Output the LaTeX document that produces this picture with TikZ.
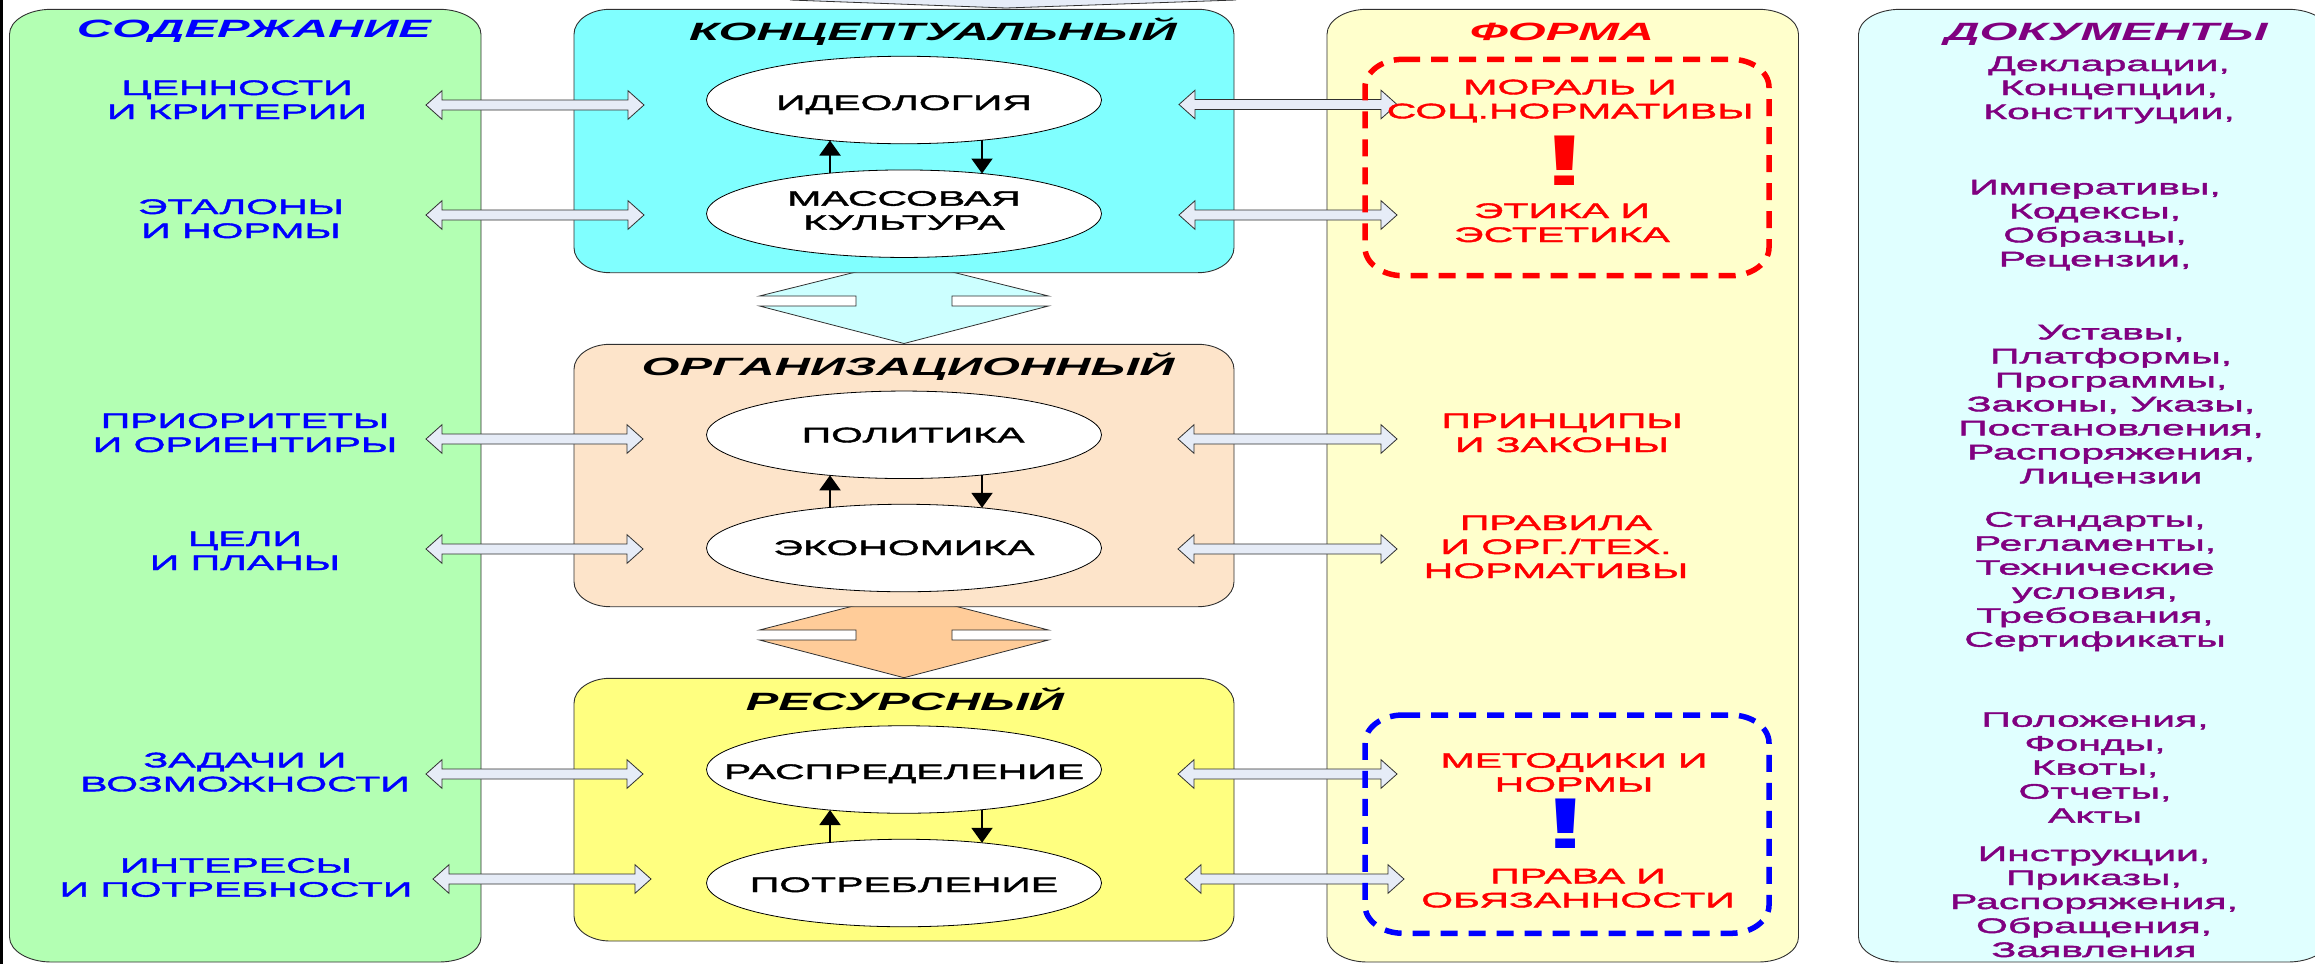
\documentclass[tikz,border=0pt]{standalone}
\usepackage{fontspec}
\setmainfont{Liberation Sans}[FakeStretch=1.95, UprightFeatures={FakeBold=2}]
\usetikzlibrary{shapes.geometric,arrows.meta,calc}

\definecolor{cGreen}{HTML}{B3FFB3}
\definecolor{cCyan}{HTML}{80FFFF}
\definecolor{cPeach}{HTML}{FDE4CA}
\definecolor{cYel}{HTML}{FFFF80}
\definecolor{cForm}{HTML}{FFFFCC}
\definecolor{cDoc}{HTML}{E0FFFF}
\definecolor{cCyanArr}{HTML}{CCFFFF}
\definecolor{cOrgArr}{HTML}{FFCC99}
\definecolor{cSmall}{HTML}{E6ECF7}
\definecolor{cLine}{HTML}{303030}
\definecolor{cBlue}{HTML}{0000FF}
\definecolor{cRed}{HTML}{FF0000}
\definecolor{cPurple}{HTML}{800080}

\newcommand\mlines[1]{\begin{tabular}[t]{@{}c@{}}#1\end{tabular}}
% rounded rectangle with elliptical corners: style, x1, y1, x2, y2, rx, ry
\newcommand\rbox[7]{%
\path[#1] ({#2+#6},#3) -- ({#4-#6},#3)
 .. controls ({#4-0.4477*#6},#3) and (#4,{#3+0.4477*#7}) .. (#4,{#3+#7})
 -- (#4,{#5-#7})
 .. controls (#4,{#5-0.4477*#7}) and ({#4-0.4477*#6},#5) .. ({#4-#6},#5)
 -- ({#2+#6},#5)
 .. controls ({#2+0.4477*#6},#5) and (#2,{#5-0.4477*#7}) .. (#2,{#5-#7})
 -- (#2,{#3+#7})
 .. controls (#2,{#3+0.4477*#7}) and ({#2+0.4477*#6},#3) .. ({#2+#6},#3) -- cycle;}
% small hollow double arrow between two named coordinates (left tip, right tip)
\newcommand\sarrow[2]{%
\path[sarr] (#1) -- ($(#1)+(16,-14.3)$) -- ($(#1)+(16,-5)$) -- ($(#2)+(-16,-5)$)
 -- ($(#2)+(-16,-14.3)$) -- (#2) -- ($(#2)+(-16,14.3)$) -- ($(#2)+(-16,5)$)
 -- ($(#1)+(16,5)$) -- ($(#1)+(16,14.3)$) -- cycle;}

\tikzset{
 boxline/.style={draw=cLine, line width=0.9pt},
 sarr/.style={draw=cLine, line width=0.8pt, fill=cSmall},
 ell/.style={ellipse, draw=black, line width=0.8pt, fill=white, inner sep=0pt,
   minimum width=395pt, minimum height=87.5pt, font=\fontsize{21}{24}\selectfont},
 blk/.style={line width=2pt, -{Triangle[width=21pt,length=15pt]}},
 lbl/.style={inner sep=0pt, anchor=base, font=\fontsize{21}{24}\selectfont},
 ttl/.style={inner sep=0pt, anchor=base, font=\fontsize{25}{30}\selectfont\bfseries\itshape},
 excl/.style={inner sep=0pt, anchor=base, font=\fontsize{72}{72}\selectfont\bfseries},
 dbox/.style={line width=5.5pt, dash pattern=on 17pt off 11pt},
}

\begin{document}
\begin{tikzpicture}[x=1pt,y=-1pt]
\useasboundingbox (0,0) rectangle (2315,964);
\clip (0,0) rectangle (2315,964);
\fill[white] (0,0) rectangle (2315,964);

% left frame line
\draw[line width=2.5pt, black] (1.5,0) -- (1.5,964);

% partial shape at the top edge
\fill[cSmall] (790,-2) -- (790,0) -- (1006,8) -- (1236,0) -- (1236,-2) -- cycle;
\draw[cLine, line width=0.8pt] (790,0) -- (1006,8) -- (1236,0);

% columns
\rbox{boxline, fill=cGreen}{9.5}{9.3}{481}{962}{42}{25}
\rbox{boxline, fill=cForm}{1327}{9.3}{1798.5}{962}{40}{25}
\rbox{boxline, fill=cDoc}{1858.5}{9.3}{2330}{962}{42}{25}

% big double arrows between the levels
\path[boxline, line width=0.8pt, fill=cCyanArr] (904,260) -- (1048.5,296) -- (952,296) -- (952,306) -- (1048.5,306)
 -- (904,343.5) -- (759.5,306) -- (856,306) -- (856,296) -- (759.5,296) -- cycle;
\path[boxline, line width=0.8pt, fill=cOrgArr] (904,593) -- (1048.5,630) -- (952,630) -- (952,640) -- (1048.5,640)
 -- (904,677.7) -- (759.5,640) -- (856,640) -- (856,630) -- (759.5,630) -- cycle;

% level boxes
\rbox{boxline, fill=cCyan}{574}{9.3}{1234}{272.7}{36}{25}
\rbox{boxline, fill=cPeach}{574}{344.3}{1234}{606.7}{36}{25}
\rbox{boxline, fill=cYel}{574}{678.3}{1234}{941}{36}{25}

% ellipses
\node[ell, text height=20pt, text depth=0pt] (ideo) at (904,100) {\makebox[0pt]{ИДЕОЛОГИЯ}};
\node[ell, text height=0pt, text depth=16pt] (mass) at (904,213.7) {\makebox[0pt]{\mlines{МАССОВАЯ\\КУЛЬТУРА}}};
\node[ell, text height=15pt, text depth=0pt] (poli) at (904,434.8) {\makebox[0pt]{\hspace*{18pt}ПОЛИТИКА}};
\node[ell, text height=14pt, text depth=0pt] (econ) at (904,548) {\makebox[0pt]{ЭКОНОМИКА}};
\node[ell, text height=19pt, text depth=0pt] (rasp) at (904,769.5) {\makebox[0pt]{РАСПРЕДЕЛЕНИЕ}};
\node[ell, text height=18pt, text depth=0pt] (potr) at (904,883) {\makebox[0pt]{ПОТРЕБЛЕНИЕ}};

% arrows between ellipses (border to border, vertical)
\draw[blk] ($(mass.center)+(-74,-40.5)$) -- ($(ideo.center)+(-74,40.5)$);
\draw[blk] ($(ideo.center)+(78,40.2)$) -- ($(mass.center)+(78,-40.2)$);
\draw[blk] ($(econ.center)+(-74,-40.5)$) -- ($(poli.center)+(-74,40.5)$);
\draw[blk] ($(poli.center)+(78,40.2)$) -- ($(econ.center)+(78,-40.2)$);
\draw[blk] ($(potr.center)+(-74,-40.5)$) -- ($(rasp.center)+(-74,40.5)$);
\draw[blk] ($(rasp.center)+(78,40.2)$) -- ($(potr.center)+(78,-40.2)$);

% end points of the small double arrows
\coordinate (la1) at (426,105);   \coordinate (lb1) at (644,105);
\coordinate (la2) at (426,215);   \coordinate (lb2) at (644,215);
\coordinate (la3) at (426,439);   \coordinate (lb3) at (643,439);
\coordinate (la4) at (426,549);   \coordinate (lb4) at (643,549);
\coordinate (la5) at (426,774);   \coordinate (lb5) at (643,774);
\coordinate (la6) at (433,879);   \coordinate (lb6) at (651,879);
\coordinate (ra1) at (1179,104.5);\coordinate (rb1) at (1397,104.5);
\coordinate (ra2) at (1179,215);  \coordinate (rb2) at (1397,215);
\coordinate (ra3) at (1178,439);  \coordinate (rb3) at (1397,439);
\coordinate (ra4) at (1178,549);  \coordinate (rb4) at (1397,549);
\coordinate (ra5) at (1178,774);  \coordinate (rb5) at (1397,774);
\coordinate (ra6) at (1185,879);  \coordinate (rb6) at (1404,879);
\foreach \i in {1,...,6} {\sarrow{la\i}{lb\i}\sarrow{ra\i}{rb\i}}

% dashed frames in the FORM column
\rbox{dbox, draw=cRed}{1365}{59.3}{1769}{275.7}{38}{28}
\rbox{dbox, draw=cBlue}{1365}{715}{1769}{933.3}{38}{28}

% titles
\node[ttl, text=cBlue] (tSod) at (254,37) {СОДЕРЖАНИЕ};
\node[ttl] (tKon) at (933,40) {КОНЦЕПТУАЛЬНЫЙ};
\node[ttl] (tOrg) at (908,375) {ОРГАНИЗАЦИОННЫЙ};
\node[ttl] (tRes) at (905,710) {РЕСУРСНЫЙ};
\node[ttl, text=cRed] (tFor) at (1562,40) {ФОРМА};
\node[ttl, text=cPurple] (tDoc) at (2106,40) {ДОКУМЕНТЫ};

% content labels
\node[lbl, text=cBlue] (s1) at (237,95) {\mlines{ЦЕННОСТИ\\И КРИТЕРИИ}};
\node[lbl, text=cBlue] (s2) at (241,214) {\mlines{ЭТАЛОНЫ\\И НОРМЫ}};
\node[lbl, text=cBlue] (s3) at (245,428) {\mlines{ПРИОРИТЕТЫ\\И ОРИЕНТИРЫ}};
\node[lbl, text=cBlue] (s4) at (245,546) {\mlines{ЦЕЛИ\\И ПЛАНЫ}};
\node[lbl, text=cBlue] (s5) at (245,767.3) {\mlines{ЗАДАЧИ И\\ВОЗМОЖНОСТИ}};
\node[lbl, text=cBlue] (s6) at (236,872.7) {\mlines{ИНТЕРЕСЫ\\И ПОТРЕБНОСТИ}};

% form labels
\node[lbl, text=cRed] (f1) at (1570,94.3) {\mlines{МОРАЛЬ И\\СОЦ.НОРМАТИВЫ}};
\node[excl, text=cRed] (x1) at (1565,185) {!};
\node[lbl, text=cRed] (f2) at (1562,218) {\mlines{ЭТИКА И\\ЭСТЕТИКА}};
\node[lbl, text=cRed] (f3) at (1562,428) {\mlines{ПРИНЦИПЫ\\И ЗАКОНЫ}};
\node[lbl, text=cRed] (f4) at (1556,530) {\mlines{ПРАВИЛА\\И ОРГ./ТЕХ.\\НОРМАТИВЫ}};
\node[lbl, text=cRed] (f5) at (1574,767.7) {\mlines{МЕТОДИКИ И\\НОРМЫ}};
\node[excl, text=cBlue] (x2) at (1566,848) {!};
\node[lbl, text=cRed] (f6) at (1578,883.3) {\mlines{ПРАВА И\\ОБЯЗАННОСТИ}};

% documents
\node[lbl, text=cPurple] (d1) at (2109,71) {\mlines{Декларации,\\Концепции,\\Конституции,}};
\node[lbl, text=cPurple] (d2) at (2095,194.3) {\mlines{Императивы,\\Кодексы,\\Образцы,\\Рецензии,}};
\node[lbl, text=cPurple] (d3) at (2111,339.3) {\mlines{Уставы,\\Платформы,\\Программы,\\Законы, Указы,\\Постановления,\\Распоряжения,\\Лицензии}};
\node[lbl, text=cPurple] (d4) at (2095,526.7) {\mlines{Стандарты,\\Регламенты,\\Технические\\условия,\\Требования,\\Сертификаты}};
\node[lbl, text=cPurple] (d5) at (2095,726.7) {\mlines{Положения,\\Фонды,\\Квоты,\\Отчеты,\\Акты}};
\node[lbl, text=cPurple] (d6) at (2094,861) {\mlines{Инструкции,\\Приказы,\\Распоряжения,\\Обращения,\\Заявления}};
\end{tikzpicture}
\end{document}
